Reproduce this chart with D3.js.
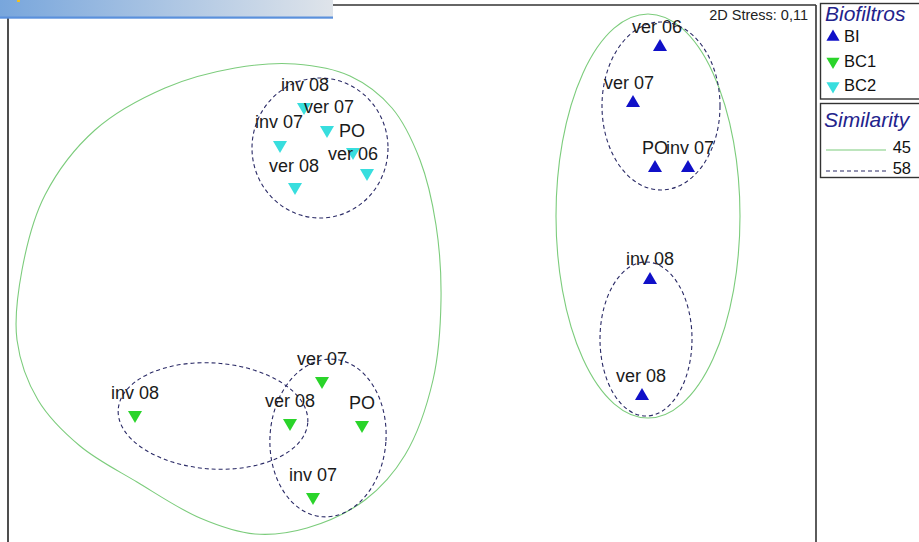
<!DOCTYPE html>
<html><head><meta charset="utf-8">
<script src="https://cdn.jsdelivr.net/npm/d3@7"></script>
<style>
html,body{margin:0;padding:0;background:#fff;}
svg{display:block;font-family:"Liberation Sans",Arial,sans-serif;}
</style></head>
<body><svg id="c" width="919" height="542"></svg>
<script>
// ---- data (MDS coordinates) ----
const groups = ["BI","BC1","BC2"];
const biLabels  = ["ver 06","ver 07","PO","inv 07","inv 08","ver 08"];
const biX       = [2.48, 2.21, 2.43, 2.76, 2.38, 2.30];
const biY       = [2.26, 1.70, 1.05, 1.05, -0.07, -1.23];
const bc1Labels = ["ver 07","ver 08","PO","inv 08","inv 07"];
const bc1X      = [-0.90, -1.22, -0.50, -2.77, -0.99];
const bc1Y      = [-1.08, -1.50, -1.52, -1.42, -2.24];
const bc2Labels = ["inv 08","ver 07","inv 07","PO","ver 06","ver 08"];
const bc2X      = [-1.08, -0.85, -1.32, -0.59, -0.45, -1.17];
const bc2Y      = [1.66, 1.43, 1.28, 1.21, 1.00, 0.86];
const stress = "0,11";
const simLevels = [45, 58];
// 45% contour around BC1 + BC2 (outline points, MDS units)
const bigCtrX = [-1.17,-0.62,-0.20,0.08,0.24,0.29,0.21,-0.07,-0.47,-1.05,-1.57,-2.12,-2.75,-3.32,-3.74,-3.95,-3.90,-3.67,-3.17,-2.47,-1.77];
const bigCtrY = [2.09,1.97,1.65,1.13,0.48,-0.27,-1.07,-1.82,-2.27,-2.55,-2.61,-2.45,-2.09,-1.73,-1.27,-0.67,0.03,0.78,1.43,1.85,2.05];
// other contours: centre x, centre y, semi-axis x, semi-axis y, tilt (deg), level
const ctrX   = [2.36, -0.92, 2.49, 2.34, -1.99, -0.84];
const ctrY   = [0.57, 1.25, 1.67, -0.66, -1.43, -1.65];
const ctrRX  = [0.92, 0.68, 0.59, 0.46, 0.95, 0.58];
const ctrRY  = [2.02, 0.70, 0.84, 0.77, 0.53, 0.79];
const ctrRot = [0, 0, 0, 0, 4, 4];
const ctrLev = [45, 58, 58, 58, 58, 58];

// ---- layout / style ----
const svg = d3.select("#c");
const x = d3.scaleLinear().domain([-4.04, 4.04]).range([8, 816]);
const y = d3.scaleLinear().domain([2.69, -2.69]).range([4, 542]);
const colors = {BI:"#1010c8", BC1:"#2ad42a", BC2:"#38dede"};
const levStyle = {45:{stroke:"#7ccc7c", dash:null}, 58:{stroke:"#2a2a66", dash:"4,3"}};
const labelDx = {BI:[-3,-4,0,2,0,-1], BC1:[0,0,0,0,0], BC2:[1,2,-1,-1,-14,-1]};
const labelDy = {BI:[-14,-14,-14,-14,-15,-14], BC1:[-16,-16,-16,-16,-16], BC2:[-16,-17,-17,-15,-13,-15]};

const grad = svg.append("defs").append("linearGradient").attr("id","hb");
grad.append("stop").attr("offset","0").attr("stop-color","#78a6dc");
grad.append("stop").attr("offset","1").attr("stop-color","#dfe4ea");

// frame
svg.append("line").attr("x1",8).attr("x2",8).attr("y1",5).attr("y2",542).attr("stroke","#222").attr("stroke-width",1.6);
svg.append("line").attr("x1",816).attr("x2",816).attr("y1",5).attr("y2",542).attr("stroke","#333").attr("stroke-width",1.6);
svg.append("line").attr("x1",8).attr("x2",816).attr("y1",5).attr("y2",5).attr("stroke","#333").attr("stroke-width",1.4);

svg.append("rect").attr("x",0).attr("y",0).attr("width",333).attr("height",17).attr("fill","url(#hb)");
svg.append("rect").attr("x",0).attr("y",16.5).attr("width",333).attr("height",2.2).attr("fill","#5a90dc");
svg.append("rect").attr("x",17).attr("y",0).attr("width",3).attr("height",2).attr("fill","#f0c020");

// contours
const bigPts = bigCtrX.map((d,i)=>[d, bigCtrY[i]]);
svg.append("path").datum(bigPts)
  .attr("d", d3.line().x(d=>x(d[0])).y(d=>y(d[1])).curve(d3.curveCatmullRomClosed.alpha(0.5)))
  .attr("fill","none").attr("stroke",levStyle[45].stroke).attr("stroke-width",1.1);

const ctr = ctrX.map((d,i)=>({cx:d, cy:ctrY[i], rx:ctrRX[i], ry:ctrRY[i], rot:ctrRot[i], lev:ctrLev[i]}));
svg.append("g").selectAll("ellipse").data(ctr).join("ellipse")
  .attr("cx",0).attr("cy",0)
  .attr("rx",d=>x(d.cx+d.rx)-x(d.cx))
  .attr("ry",d=>y(d.cy-d.ry)-y(d.cy))
  .attr("transform",d=>`translate(${x(d.cx)},${y(d.cy)}) rotate(${d.rot})`)
  .attr("fill","none")
  .attr("stroke",d=>levStyle[d.lev].stroke)
  .attr("stroke-width",1.1)
  .attr("stroke-dasharray",d=>levStyle[d.lev].dash);

// points
const pts = [];
biLabels.forEach((l,i)=>pts.push({g:"BI",l,x:biX[i],y:biY[i],i}));
bc1Labels.forEach((l,i)=>pts.push({g:"BC1",l,x:bc1X[i],y:bc1Y[i],i}));
bc2Labels.forEach((l,i)=>pts.push({g:"BC2",l,x:bc2X[i],y:bc2Y[i],i}));
const tri = d3.symbol().type(d3.symbolTriangle).size(85);

svg.append("g").selectAll("path").data(pts).join("path")
  .attr("d",tri)
  .attr("transform",d=>`translate(${x(d.x)},${y(d.y)})${d.g==="BI"?"":" rotate(180)"}`)
  .attr("fill",d=>colors[d.g]);

svg.append("g").selectAll("text").data(pts).join("text")
  .attr("x",d=>x(d.x)+labelDx[d.g][d.i])
  .attr("y",d=>y(d.y)+labelDy[d.g][d.i])
  .attr("text-anchor","middle")
  .attr("font-size",18)
  .attr("fill","#1a1a1a")
  .text(d=>d.l);

// stress
svg.append("text").attr("x",808).attr("y",20).attr("text-anchor","end")
  .attr("font-size",14.5).attr("fill","#222").text("2D Stress: "+stress);

// legends
const lg = svg.append("g");
lg.append("rect").attr("x",820.5).attr("y",3.5).attr("width",110).attr("height",95.5).attr("fill","#fff").attr("stroke","#333").attr("stroke-width",1.4);
lg.append("text").attr("x",825).attr("y",21).attr("font-size",21).attr("font-style","italic").attr("fill","#23238c").text("Biofiltros");
groups.forEach((g,i)=>{
  const yy = 42 + i*24.5;
  lg.append("path").attr("d",tri.size(75)())
    .attr("transform",`translate(833,${yy-5})${g==="BI"?"":" rotate(180)"}`)
    .attr("fill",colors[g]);
  lg.append("text").attr("x",844).attr("y",yy).attr("font-size",16.5).attr("fill","#111").text(g);
});
lg.append("rect").attr("x",820.5).attr("y",103.5).attr("width",110).attr("height",74).attr("fill","#fff").attr("stroke","#333").attr("stroke-width",1.4);
lg.append("text").attr("x",824).attr("y",127).attr("font-size",21).attr("font-style","italic").attr("fill","#23238c").text("Similarity");
simLevels.forEach((v,i)=>{
  const yy = 153 + i*21;
  lg.append("line").attr("x1",826).attr("x2",886).attr("y1",yy-3).attr("y2",yy-3)
    .attr("stroke",levStyle[v].stroke).attr("stroke-width",1.1).attr("stroke-dasharray",levStyle[v].dash);
  lg.append("text").attr("x",911).attr("y",yy).attr("text-anchor","end").attr("font-size",16.5).attr("fill","#111").text(v);
});
</script></body></html>
